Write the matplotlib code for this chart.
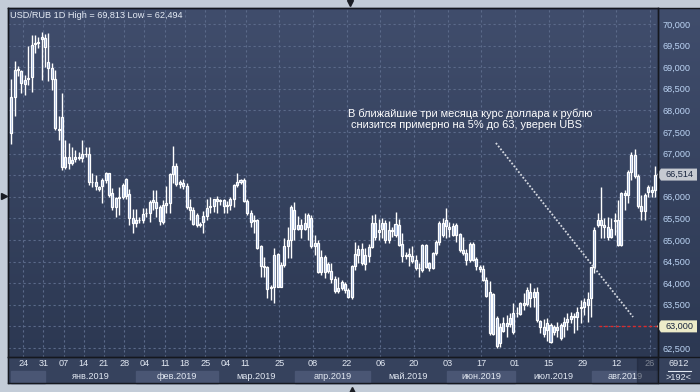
import numpy as np
import matplotlib
matplotlib.use('Agg')
import matplotlib.pyplot as plt
import matplotlib.transforms as mtransforms
from matplotlib.patches import Rectangle, Polygon
from matplotlib.lines import Line2D
from matplotlib.colors import LinearSegmentedColormap

plt.rcParams['font.family'] = ['Liberation Sans', 'DejaVu Sans']

# daily candles USD/RUB, 192 bars visible
opens = [
    67470, 68300, 68930, 68920, 68610, 68730, 68780, 69540, 69560, 69660,
    69670, 69110, 68970, 68720, 67580, 67850, 66690, 66930, 66780, 66870,
    66890, 66890, 67000, 67000, 66350, 66340, 66220, 66240, 66390, 66540,
    66080, 65760, 65970, 66000, 66400, 66060, 65500, 65390, 65470, 65460,
    65620, 65630, 65890, 65890, 65770, 65420, 65810, 65850, 66530, 66710,
    66300, 66330, 66250, 65760, 65690, 65570, 65350, 65420, 65550, 65760,
    65790, 65940, 65910, 65920, 65790, 65810, 65960, 66280, 66340, 66380,
    65910, 65620, 65440, 65460, 64850, 64385, 64380, 63880, 63920, 64670,
    63920, 64420, 64860, 65010, 65690, 65250, 65340, 65250, 65300, 65520,
    64850, 64940, 64270, 64610, 64290, 64290, 64090, 63810, 63880, 63850,
    63840, 63680, 64400, 64660, 64780, 64450, 64620, 64830, 65400, 65190,
    65250, 65390, 65000, 65230, 65120, 65350, 64900, 64620, 64640, 64630,
    64530, 64350, 64300, 64880, 64470, 64340, 64700, 64950, 65400, 65330,
    65290, 65120, 65340, 65130, 64770, 64710, 64530, 64900, 64570, 64380,
    64320, 64080, 63800, 62830, 63190, 62610, 62900, 63070, 63050, 62860,
    63300, 63290, 63530, 63520, 63800, 63690, 63800, 63130, 62990, 62920,
    63030, 62880, 62990, 62730, 63000, 63100, 63170, 63230, 63210, 63420,
    63460, 63500, 63650, 64370, 65350, 65460, 65350, 65300, 65070, 65430,
    65460, 64890, 66080, 66050, 66580, 66960, 66470, 65780, 65660, 66100, 66150, 66160,
]
highs = [
    68720, 69140, 69030, 68940, 68820, 69490, 69750, 69750, 69710, 69813,
    69770, 69800, 69090, 68940, 67860, 68400, 67310, 67240, 67160, 67080,
    67040, 67310, 67160, 67160, 66540, 66500, 66250, 66430, 66580, 66560,
    66200, 66000, 66230, 66310, 66430, 66170, 65720, 65720, 65540, 65730,
    65730, 65920, 66160, 66160, 65810, 65920, 66250, 66560, 67180, 66780,
    66390, 66400, 66330, 65940, 65770, 65630, 65420, 65660, 65940, 66000,
    65960, 66020, 65960, 65960, 65910, 66000, 66300, 66540, 66410, 66430,
    65940, 65690, 65580, 65480, 64880, 64610, 64400, 63960, 64810, 64710,
    64500, 65040, 65310, 65810, 65890, 65560, 65480, 65620, 65620, 65580,
    65120, 65000, 64770, 64650, 64500, 64460, 64170, 64150, 64070, 64035,
    63880, 64420, 64960, 64880, 64920, 64810, 64910, 65580, 65600, 65480,
    65500, 65460, 65450, 65310, 65650, 65480, 65150, 64730, 64810, 64860,
    64650, 64460, 64910, 64910, 64500, 64730, 65000, 65450, 65500, 65730,
    65420, 65400, 65390, 65170, 65080, 64780, 64960, 64960, 64610, 64420,
    64420, 64140, 64040, 63780, 63230, 63070, 63220, 63260, 63300, 63530,
    63460, 63570, 63770, 63920, 64000, 63880, 63920, 63150, 63160, 63190,
    63070, 63030, 63090, 63070, 63220, 63300, 63340, 63320, 63460, 63610,
    63650, 63800, 64380, 65310, 65620, 66230, 65500, 65540, 65500, 65620,
    65920, 66120, 66160, 66620, 67040, 67100, 66530, 66040, 66080, 66270, 66250, 66710,
]
lows = [
    67220, 67860, 68800, 68400, 68360, 68590, 68430, 69320, 69440, 68700,
    69010, 68690, 68470, 67550, 67310, 66620, 66640, 66640, 66740, 66810,
    66850, 66810, 66930, 66270, 66230, 66160, 66140, 65850, 66310, 66000,
    65690, 65540, 65580, 65960, 65960, 65350, 65150, 65310, 65390, 65390,
    65540, 65420, 65690, 65540, 65350, 65370, 65620, 65620, 66310, 66260,
    66200, 66170, 65710, 65460, 65350, 65310, 65310, 65150, 65460, 65620,
    65650, 65620, 65810, 65620, 65620, 65690, 65760, 66220, 66300, 65890,
    65580, 65310, 65150, 64790, 64150, 64150, 63650, 63610, 63550, 63900,
    63900, 64380, 64580, 64590, 65000, 65230, 65040, 65230, 65000, 64810,
    64650, 64240, 64190, 64110, 64240, 64000, 63770, 63770, 63840, 63765,
    63650, 63630, 64300, 64460, 64420, 64300, 64500, 64810, 65010, 65010,
    65040, 64920, 64940, 65080, 65060, 64860, 64500, 64570, 64400, 64460,
    64300, 64150, 64270, 64340, 64290, 64320, 64650, 64880, 65080, 65040,
    65080, 65090, 64960, 64730, 64650, 64420, 64480, 64520, 64300, 64270,
    64040, 63690, 62800, 62800, 62494, 62530, 62880, 62760, 62990, 62820,
    63220, 63260, 63380, 63470, 63460, 63460, 63110, 62840, 62760, 62650,
    62610, 62800, 62760, 62680, 62760, 62920, 63070, 62840, 62920, 63070,
    63260, 63110, 63220, 64230, 65290, 65040, 65040, 65000, 65040, 65120,
    64850, 64850, 65690, 65850, 66390, 66430, 65730, 65460, 65460, 66000, 65990, 65990,
]
closes = [
    68300, 68930, 68950, 68630, 68700, 68760, 69510, 69570, 69580, 69700,
    69460, 68970, 68720, 67590, 67550, 66700, 66930, 66780, 66860, 66910,
    66910, 67000, 66990, 66350, 66340, 66240, 66180, 66390, 66540, 66040,
    65770, 65980, 66000, 66270, 66010, 65500, 65390, 65470, 65460, 65610,
    65630, 65880, 65920, 65740, 65430, 65800, 65850, 66520, 66710, 66300,
    66350, 66250, 65760, 65690, 65370, 65350, 65380, 65550, 65730, 65780,
    65940, 65910, 65920, 65790, 65810, 65960, 66270, 66340, 66380, 65910,
    65620, 65420, 65470, 64810, 64390, 64395, 63860, 63915, 64650, 63920,
    64420, 64860, 65000, 65770, 65250, 65340, 65250, 65400, 65570, 64850,
    64940, 64270, 64610, 64270, 64450, 64090, 63810, 63880, 64030, 63980,
    63680, 64390, 64670, 64780, 64460, 64650, 64830, 65400, 65080, 65240,
    65400, 65000, 65230, 65200, 65370, 64890, 64620, 64650, 64670, 64520,
    64350, 64360, 64880, 64370, 64340, 64700, 64960, 65400, 65120, 65460,
    65250, 65320, 65120, 64770, 64710, 64530, 64900, 64540, 64400, 64330,
    64080, 63710, 62840, 63760, 62545, 62990, 63070, 63010, 63200, 63310,
    63310, 63530, 63500, 63840, 63650, 63800, 63140, 62980, 62830, 63080,
    62630, 62990, 62910, 63030, 63100, 63180, 63240, 63210, 63340, 63450,
    63570, 63640, 64380, 65240, 65470, 65350, 65300, 65070, 65260, 65470,
    64890, 66080, 66050, 66580, 66960, 66470, 65780, 65660, 66040, 66230, 66120, 66514,
]

# date axis (bar index of each labelled day)
tick_bars = [4, 10, 16, 22, 28, 34, 40, 46, 52, 58, 64, 70, 80, 90,
             100, 110, 120, 130, 140, 150, 160, 170, 180, 190]
tick_labels = ['24', '31', '07', '14', '21', '28', '04', '11', '18', '25', '04', '11',
               '25', '08', '22', '06', '20', '03', '17', '01', '15', '29', '12', '26']
month_edges = [-0.1, 10, 37, 61.3, 84.1, 106.4, 129.3, 149.4, 172.4, 191.9]
month_labels = ['', 'янв.2019', 'фев.2019', 'мар.2019', 'апр.2019',
                'май.2019', 'июн.2019', 'июл.2019', 'авг.2019']
price_ticks = list(range(62500, 70001, 500))

last_price = 66514
target_price = 63000
target_from = 174.5
trend_x = [143.8, 184.5]
trend_y = [67245, 63217]
note_1 = 'В ближайшие три месяца курс доллара к рублю'
note_2 = ' снизится примерно на 5% до 63, уверен UBS'
title = 'USD/RUB 1D High = 69,813 Low = 62,494'

W, H = 700, 392


def fx(px):
    return px / W


def fy(py):
    return 1 - py / H


fig = plt.figure(figsize=(7, 3.92), dpi=100, facecolor='#c3ccd8')

# gradient background for plot + price scale
bg = fig.add_axes([fx(8), fy(357), fx(692), (357 - 8) / H], zorder=-10)
cmap = LinearSegmentedColormap.from_list('bg', ['#404d6c', '#2c3852'])
bg.imshow(np.linspace(0, 1, 256).reshape(-1, 1), cmap=cmap, aspect='auto', extent=[0, 1, 0, 1])
bg.set_axis_off()

ax = fig.add_axes([fx(8), fy(357), fx(650), (357 - 8) / H])
ax.set_facecolor('none')

idx = np.arange(len(opens))
o = np.array(opens)
c = np.array(closes)
lo = np.minimum(o, c)
hi = np.maximum(o, c)
ax.vlines(idx, lows, highs, color='white', lw=1, zorder=3)
ax.bar(idx, hi - lo, bottom=lo, width=0.6, color='#9fb5dc', edgecolor='white', lw=0.9, zorder=4)

ax.set_xlim(-1, 191.9)
ax.set_ylim(62291, 70370)
ax.yaxis.tick_right()
# price labels hidden behind the value markers are left blank
ylabels = ['' if abs(p - last_price) < 150 or p == target_price else f'{p:,}' for p in price_ticks]
ax.set_yticks(price_ticks, ylabels)
ax.set_xticks([b - 0.5 for b in tick_bars], tick_labels)
ax.tick_params(axis='y', length=0, pad=3, labelsize=6.6, labelcolor='#bcd4f4')
ax.tick_params(axis='x', length=0, pad=1.5, labelsize=6.6, labelcolor='#e2e8f2')
ax.grid(True, color='#5b6a8a', ls=(0, (2, 2.5)), lw=0.8)
ax.set_axisbelow(True)
for s in ax.spines.values():
    s.set_color('#15181f')
    s.set_linewidth(1)

# trend line and target level
ax.plot(trend_x, trend_y, color='#d4d8e0', ls=(0, (1, 1)), lw=1.3, zorder=5)
ax.hlines(target_price, target_from, 191.9, color='#e02828', ls=(0, (2, 2)), lw=1, zorder=5)

ax.text(100, 67933, note_1, color='white', fontsize=7.9, va='center', ha='left')
ax.text(100, 67662, note_2, color='white', fontsize=7.9, va='center', ha='left')

# price markers on the right scale
tr_r = mtransforms.blended_transform_factory(ax.transAxes, ax.transData)
half = 6 * (70370 - 62291) / 349
for val, fc in [(last_price, '#c6cad1'), (target_price, '#ecebc9')]:
    pts = [(1 - 1 / 650, val), (1 + 3 / 650, val + half), (1 + 39 / 650, val + half),
           (1 + 39 / 650, val - half), (1 + 3 / 650, val - half)]
    ax.add_patch(Polygon(pts, closed=True, transform=tr_r, fc=fc, ec='none',
                         clip_on=False, zorder=6))
    ax.text(1 + 21 / 650, val, f'{val:,}', transform=tr_r, ha='center', va='center',
            fontsize=6.6, color='#1b2740', clip_on=False, zorder=7)

# bottom date strip
fig.add_artist(Rectangle((fx(8), fy(383)), fx(692), (383 - 357) / H,
                         transform=fig.transFigure, color='#36425d', zorder=-5))
trm = mtransforms.blended_transform_factory(ax.transData, fig.transFigure)
for i, lab in enumerate(month_labels):
    x0, x1 = month_edges[i], month_edges[i + 1]
    if i % 2 == 0:
        fig.add_artist(Rectangle((x0, fy(383)), x1 - x0, (383 - 370.5) / H,
                                 transform=trm, color='#4a5674', zorder=-4))
    fig.text((x0 + x1) / 2, fy(376.5), lab, transform=trm, ha='center', va='center',
             fontsize=6.6, color='#e2e8f2')

# current-bar highlight
fig.add_artist(Rectangle((fx(637), fy(383)), fx(20), (383 - 357) / H,
                         transform=fig.transFigure, color='#1c2438', alpha=0.5, zorder=5))

# corner info
fig.text(fx(679), fy(363.5), '6912', ha='center', va='center', fontsize=6.6, color='#e2e8f2')
fig.add_artist(Line2D([fx(668), fx(691)], [fy(370.5), fy(370.5)], color='#e2e8f2', lw=0.8,
                      transform=fig.transFigure))
fig.text(fx(679), fy(377), '>192<', ha='center', va='center', fontsize=6.6, color='#e2e8f2')

# frame lines
dark = '#15181f'
for xs, ys in [([8, 700], [8, 8]), ([8, 700], [357, 357]), ([8, 700], [383, 383]),
               ([8, 8], [8, 383]), ([658, 658], [8, 383])]:
    fig.add_artist(Line2D([fx(v) for v in xs], [fy(v) for v in ys], color=dark, lw=1,
                          transform=fig.transFigure, zorder=6))

# small scroll arrows in margins
for px, py, m in [(350, 3, 'v'), (4, 196, '>'), (352, 389.5, '^')]:
    fig.add_artist(Line2D([fx(px)], [fy(py)], marker=m, ms=5, color='#1a1d24',
                          transform=fig.transFigure))

fig.text(fx(10), fy(15), title, ha='left', va='center', fontsize=6.6, color='#e6ecf6')

fig.savefig('out.png', dpi=100, facecolor=fig.get_facecolor())
